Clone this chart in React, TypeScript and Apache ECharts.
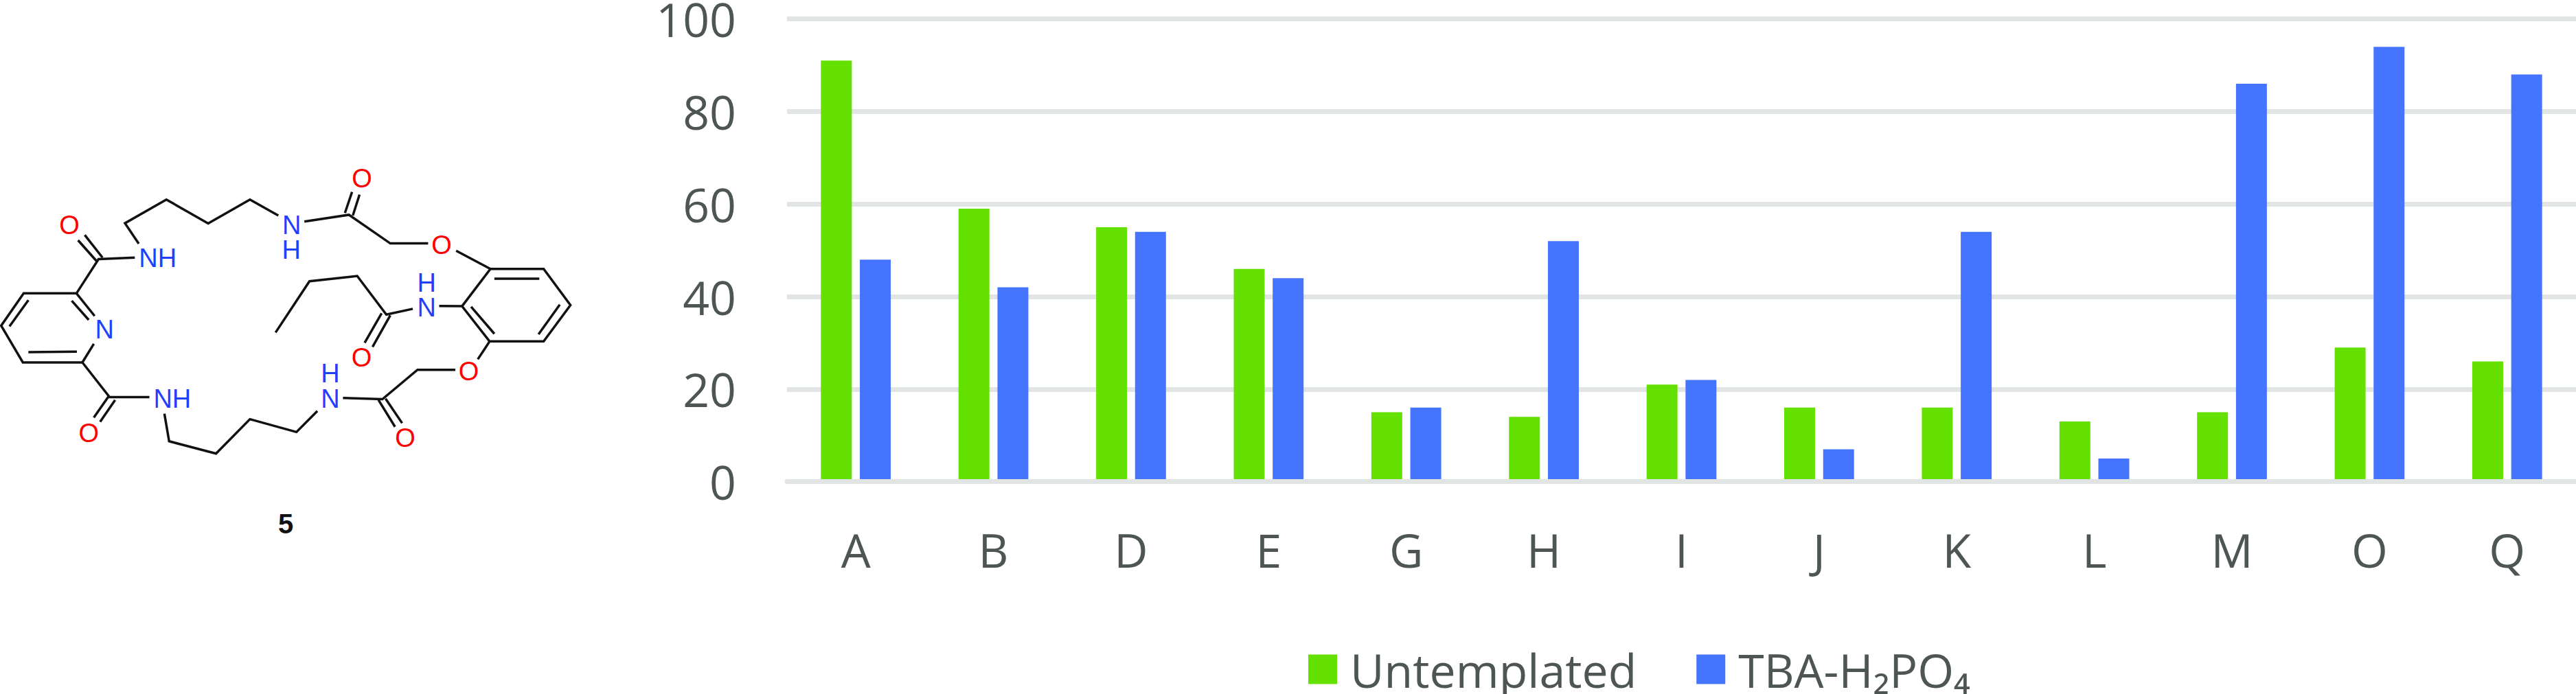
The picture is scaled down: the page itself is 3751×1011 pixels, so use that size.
import React, { useEffect, useRef } from "react";
import * as echarts from "echarts";

const categories = ["A", "B", "D", "E", "G", "H", "I", "J", "K", "L", "M", "O", "Q"];
const untemplated = [91, 59, 55, 46, 15, 14, 21, 16, 16, 13, 15, 29, 26];
const tbaH2PO4 = [48, 42, 54, 44, 16, 52, 22, 7, 54, 5, 86, 94, 88];
const seriesNames = ["Untemplated", "TBA-H₂PO₄"];
const yTicks = [0, 20, 40, 60, 80, 100];

// Structure of compound 5, as polylines in a 1568x1568 drawing space.
const bonds: number[][][] = [
  [[352, 405], [317, 327], [422, 237], [528, 328], [634, 237], [706, 298]],
  [[342, 458], [250, 464], [194, 594], [60, 594], [3, 717], [58, 857], [209, 857], [238, 786]],
  [[198, 392], [246, 473]], [[215, 372], [260, 458]],
  [[194, 594], [240, 680]], [[182, 622], [225, 695]], [[72, 620], [24, 720]], [[72, 818], [195, 816]],
  [[209, 857], [278, 989], [379, 989]],
  [[276, 985], [238, 1067]], [[292, 1000], [254, 1083]],
  [[417, 1052], [429, 1157], [548, 1204], [634, 1073], [752, 1122], [805, 1042]],
  [[870, 992], [970, 997], [1059, 885], [1155, 885]],
  [[960, 1000], [1002, 1102]], [[978, 995], [1020, 1088]],
  [[1212, 845], [1242, 777], [1379, 777], [1447, 639], [1379, 501], [1244, 501], [1172, 643], [1242, 777]],
  [[1254, 538], [1368, 538]], [[1420, 637], [1366, 750]], [[1195, 645], [1254, 748]],
  [[1244, 501], [1157, 432]],
  [[1086, 404], [990, 404], [885, 295], [772, 321]],
  [[875, 288], [893, 208]], [[895, 298], [912, 218]],
  [[1172, 643], [1114, 642]],
  [[1047, 653], [980, 675], [906, 528], [785, 548], [699, 743]],
  [[968, 670], [925, 782]], [[990, 678], [945, 798]],
];
const atoms: [string, number, number][] = [
  ["O", 176, 335], ["NH", 400, 461], ["N", 740, 335], ["H", 739, 428], ["O", 918, 158],
  ["O", 1120, 410], ["H", 1082, 553], ["N", 1082, 648], ["O", 917, 840], ["N", 265, 732],
  ["NH", 437, 995], ["O", 225, 1127], ["H", 838, 900], ["N", 838, 995], ["O", 1028, 1145], ["O", 1189, 890],
];
const compoundLabel = "5";

const sx = (x: number) => x / 1.742;
const sy = (y: number) => 200 + y / 2.613;
const atomColor = (t: string) => (t === "O" ? "#ff0000" : "#1f40ff");

export default function App() {
  const ref = useRef<HTMLDivElement>(null);
  useEffect(() => {
    const chart = echarts.init(ref.current!, undefined, { renderer: "svg" });
    const text = "#4d5555";
    const font = "Open Sans";
    const graphic: any[] = [
      ...bonds.map((b) => ({
        type: "polyline",
        shape: { points: b.map(([x, y]) => [sx(x), sy(y)]) },
        style: { stroke: "#111111", lineWidth: 3.5, fill: "none" },
      })),
      ...atoms.map(([t, x, y]) => ({
        type: "text",
        x: sx(x),
        y: sy(y),
        style: {
          text: t,
          fill: atomColor(t),
          font: "38px 'Liberation Sans'",
          align: "center",
          verticalAlign: "middle",
        },
      })),
      {
        type: "text",
        x: sx(725),
        y: sy(1472),
        style: {
          text: compoundLabel,
          fill: "#111111",
          font: "bold 40px 'Liberation Sans'",
          align: "center",
          verticalAlign: "middle",
        },
      },
    ];
    chart.setOption({
      animation: false,
      backgroundColor: "#ffffff",
      grid: { left: 1146, top: 27.7, width: 2605, height: 674, containLabel: false, outerBoundsMode: "none" },
      legend: {
        left: 1905,
        top: 941,
        itemWidth: 42,
        itemHeight: 43,
        itemGap: 87,
        padding: 0,
        icon: "rect",
        textStyle: { color: text, fontSize: 68, lineHeight: 66, fontFamily: font, padding: [0, 0, 0, 14] },
        data: seriesNames,
      },
      xAxis: {
        type: "category",
        data: categories,
        z: 5,
        axisTick: { show: false },
        axisLine: { lineStyle: { color: "#e0e5e4", width: 7 } },
        axisLabel: { color: text, fontSize: 68, lineHeight: 56, fontFamily: font, margin: 71 },
      },
      yAxis: {
        type: "value",
        min: 0,
        max: 100,
        interval: yTicks[1] - yTicks[0],
        axisLine: { show: false },
        axisTick: { show: false },
        axisLabel: { color: text, fontSize: 68, lineHeight: 54, fontFamily: font, margin: 74 },
        splitLine: { lineStyle: { color: "#e0e5e4", width: 7 } },
      },
      series: [
        { name: seriesNames[0], type: "bar", data: untemplated, barWidth: 45, barGap: "26%", itemStyle: { color: "#64e100" } },
        { name: seriesNames[1], type: "bar", data: tbaH2PO4, barWidth: 45, barGap: "26%", itemStyle: { color: "#4575ff" } },
      ],
      graphic,
    });
    return () => chart.dispose();
  }, []);
  return (
    <div
      ref={ref}
      style={{ position: "absolute", left: 0, top: 0, width: 3751, height: 1011, background: "#fff" }}
    />
  );
}
